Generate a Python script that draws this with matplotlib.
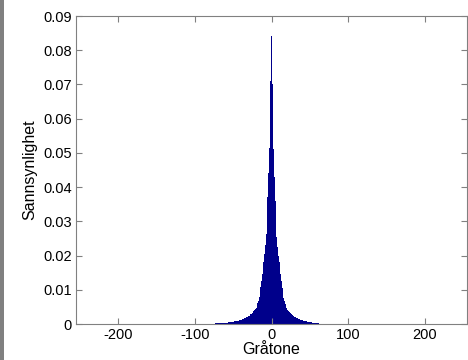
import numpy as np
import matplotlib
matplotlib.use('Agg')
import matplotlib.pyplot as plt
from matplotlib.patches import Rectangle

# probability of difference value 0, then +1, +2, ... and -1, -2, ...
p_zero = 0.0842
p_right = [0.0700, 0.0600, 0.0510, 0.0430, 0.0360, 0.0300, 0.0255, 0.0225, 0.0200, 0.0180,
           0.0162, 0.0145, 0.0125, 0.0105, 0.0090, 0.0076, 0.0066, 0.0058, 0.0051, 0.0046,
           0.0042, 0.0039, 0.0036, 0.0033, 0.0031, 0.0029, 0.0027, 0.0025, 0.0023, 0.0021,
           0.0020, 0.0019, 0.0018, 0.0017, 0.0016, 0.0015, 0.0014, 0.0013, 0.0012, 0.0011,
           0.00100, 0.00095, 0.00090, 0.00085, 0.00080, 0.00075, 0.00070, 0.00065, 0.00060, 0.00055,
           0.00050, 0.00046, 0.00042, 0.00038, 0.00035, 0.00032, 0.00029, 0.00026, 0.00023, 0.00020,
           0.00018, 0.00016, 0.00014, 0.00012, 0.00010, 0.00009, 0.00008, 0.00007, 0.00006, 0.00005]
p_left = [0.0710, 0.0605, 0.0515, 0.0440, 0.0370, 0.0310, 0.0262, 0.0230, 0.0205, 0.0182,
          0.0163, 0.0146, 0.0127, 0.0107, 0.0092, 0.0078, 0.0068, 0.0060, 0.0053, 0.0047,
          0.0043, 0.0040, 0.0037, 0.0034, 0.0032, 0.0030, 0.0028, 0.0026, 0.0024, 0.0022,
          0.0021, 0.0020, 0.0019, 0.0018, 0.0017, 0.0016, 0.0015, 0.0014, 0.0013, 0.0012,
          0.00110, 0.00105, 0.00100, 0.00095, 0.00090, 0.00085, 0.00080, 0.00075, 0.00070, 0.00066,
          0.00062, 0.00058, 0.00055, 0.00052, 0.00049, 0.00046, 0.00043, 0.00040, 0.00038, 0.00036,
          0.00034, 0.00032, 0.00030, 0.00028, 0.00026, 0.00024, 0.00022, 0.00020, 0.00019, 0.00018,
          0.00017, 0.00016, 0.00015, 0.00014, 0.00013, 0.00012, 0.00011, 0.00010, 0.00009, 0.00008,
          0.00007, 0.00007, 0.00006, 0.00006, 0.00005, 0.00005, 0.00004, 0.00004, 0.00003, 0.00003]

xticks = [-200, -100, 0, 100, 200]
yticks = [0, 0.01, 0.02, 0.03, 0.04, 0.05, 0.06, 0.07, 0.08, 0.09]
ytick_labels = ['0', '0.01', '0.02', '0.03', '0.04', '0.05', '0.06', '0.07', '0.08', '0.09']

probs = np.array(p_left[::-1] + [p_zero] + p_right)
levels = np.arange(-len(p_left), len(p_right) + 1)

plt.rcParams['font.family'] = ['Liberation Sans', 'DejaVu Sans']
plt.rcParams['axes.unicode_minus'] = False

fig = plt.figure(figsize=(4.68, 3.6), dpi=100)
# grey strip at the left edge of the screenshot
fig.patches.append(Rectangle((0, 0), 4/468, 1, transform=fig.transFigure,
                             facecolor='#808080', edgecolor='none'))
ax = fig.add_axes([76/468, 36/360, 391/468, 308/360])
ax.bar(levels, probs, width=1.0, color='#00008b', linewidth=0)

ax.set_xlim(-255, 255)
ax.set_ylim(0, 0.09)
ax.set_xticks(xticks)
ax.set_yticks(yticks)
ax.set_yticklabels(ytick_labels)
ax.tick_params(direction='in', length=4, width=0.8, color='#808080',
               top=True, right=True, pad=3, labelsize=10.5)
for s in ax.spines.values():
    s.set_color('#808080')
    s.set_linewidth(0.8)
ax.set_xlabel('Gråtone', fontsize=11.5, labelpad=0)
ax.set_ylabel('Sannsynlighet', fontsize=11.5, labelpad=4)

fig.savefig('out.png', dpi=100)
